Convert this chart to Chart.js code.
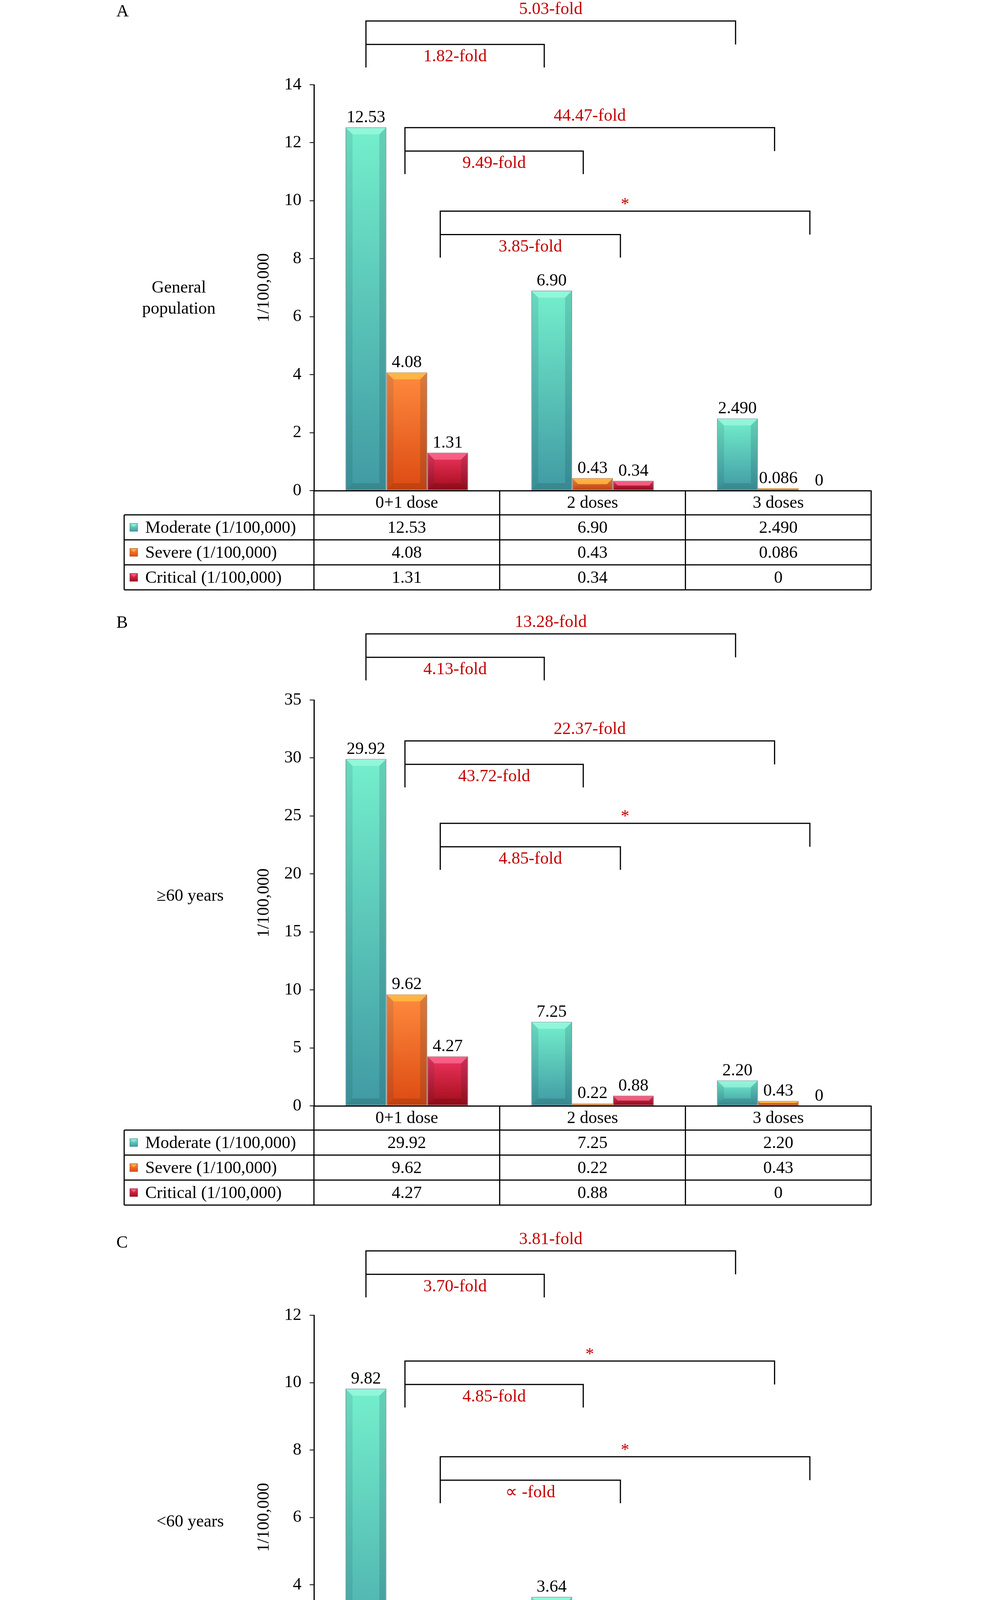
<!DOCTYPE html>
<html>
<head>
<meta charset="utf-8">
<script src="https://cdn.jsdelivr.net/npm/chart.js@4.4.1/dist/chart.umd.min.js"></script>
<style>
  body { margin: 0; background: #fff; }
  #page { position: relative; width: 2520px; height: 4660px; }
  canvas { position: absolute; left: 0; }
</style>
</head>
<body>
<div id="page">
  <canvas id="panel-a" width="2520" height="1540" style="top:0"></canvas>
  <canvas id="panel-b" width="2520" height="1570" style="top:1540px"></canvas>
  <canvas id="panel-c" width="2520" height="1550" style="top:3110px"></canvas>
</div>
<script>
const doseLabels = ['0+1 dose', '2 doses', '3 doses'];
const seriesNames = ['Moderate (1/100,000)', 'Severe (1/100,000)', 'Critical (1/100,000)'];

// A - general population
const moderateA = [12.53, 6.90, 2.490];
const severeA = [4.08, 0.43, 0.086];
const criticalA = [1.31, 0.34, 0];
const moderateTextA = ['12.53', '6.90', '2.490'];
const severeTextA = ['4.08', '0.43', '0.086'];
const criticalTextA = ['1.31', '0.34', '0'];
const foldA = [['5.03-fold', '1.82-fold'], ['44.47-fold', '9.49-fold'], ['*', '3.85-fold']];

// B - 60 years and older
const moderateB = [29.92, 7.25, 2.20];
const severeB = [9.62, 0.22, 0.43];
const criticalB = [4.27, 0.88, 0];
const moderateTextB = ['29.92', '7.25', '2.20'];
const severeTextB = ['9.62', '0.22', '0.43'];
const criticalTextB = ['4.27', '0.88', '0'];
const foldB = [['13.28-fold', '4.13-fold'], ['22.37-fold', '43.72-fold'], ['*', '4.85-fold']];

// C - under 60 years
const moderateC = [9.82, 3.64, 2.58];
const severeC = [1.60, 0.33, 0];
const criticalC = [0.20, 0, 0];
const moderateTextC = ['9.82', '3.64', '2.58'];
const severeTextC = ['1.60', '0.33', '0'];
const criticalTextC = ['0.20', '0', '0'];
const criticalBarTextC = ['0.2', '0', '0'];
const foldC = [['3.81-fold', '3.70-fold'], ['*', '4.85-fold'], ['*', '\u221d -fold']];

// layout (pixels)
const AXIS_LEFT = 804, AXIS_RIGHT = 2231, LEGEND_LEFT = 318;
const HEADER_H = 62, ROW_H = 64;
const RED = '#c40000';
const FONT = '"Liberation Serif", "Times New Roman", serif';

// bracket ends, in category units (0 = first group centre)
const bracketSpans = [
    { from: -0.22, outer: 1.77, inner: 0.74 },
    { from: -0.01, outer: 1.98, inner: 0.95 },
    { from: 0.18, outer: 2.17, inner: 1.15 }
];

const palette = [
    { top: '#74efcc', bottom: '#409aa3', shine: 'rgba(170,255,230,0.55)', edge: 'rgba(90,130,150,0.8)' },
    { top: '#ff8b3e', bottom: '#dc4a12', shine: 'rgba(255,205,70,0.65)', edge: 'rgba(150,90,60,0.7)' },
    { top: '#ef3560', bottom: '#a20c1a', shine: 'rgba(255,120,155,0.65)', edge: 'rgba(120,60,70,0.7)' }
];

const panels = [
    {
        id: 'panel-a', letter: 'A', letterY: 30, side: ['General', 'population'], sideX: 458, sideDy: 28,
        series: [moderateA, severeA, criticalA],
        barText: [moderateTextA, severeTextA, criticalTextA],
        table: [moderateTextA, severeTextA, criticalTextA],
        folds: foldA, bracketTops: [16.2, 12.52, 9.64],
        yMax: 14, yStep: 2, top: 217, bottom: 1256
    },
    {
        id: 'panel-b', letter: 'B', letterY: 55, side: ['\u226560 years'], sideX: 487, sideDy: -17,
        series: [moderateB, severeB, criticalB],
        barText: [moderateTextB, severeTextB, criticalTextB],
        table: [moderateTextB, severeTextB, criticalTextB],
        folds: foldB, bracketTops: [40.7, 31.47, 24.36],
        yMax: 35, yStep: 5, top: 252, bottom: 1291
    },
    {
        id: 'panel-c', letter: 'C', letterY: 72, side: ['<60 years'], sideX: 487, sideDy: 12,
        series: [moderateC, severeC, criticalC],
        barText: [moderateTextC, severeTextC, criticalBarTextC],
        table: [moderateTextC, severeTextC, criticalTextC],
        folds: foldC, bracketTops: [13.91, 10.64, 7.80],
        yMax: 12, yStep: 2, top: 257, bottom: 1292
    }
];

Chart.defaults.font.family = FONT;
Chart.defaults.color = '#000';

function barFill(c, col) {
    const chart = c.chart;
    if (!chart.chartArea || c.raw === undefined) return col.top;
    const y = chart.scales.y;
    const yTop = y.getPixelForValue(c.raw), yBase = y.getPixelForValue(0);
    if (!(yBase - yTop > 0.5)) return col.top;
    const g = chart.ctx.createLinearGradient(0, yTop, 0, yBase);
    g.addColorStop(0, col.top);
    g.addColorStop(1, col.bottom);
    return g;
}

function poly(ctx, pts, fill) {
    ctx.beginPath();
    ctx.moveTo(pts[0][0], pts[0][1]);
    for (let i = 1; i < pts.length; i++) ctx.lineTo(pts[i][0], pts[i][1]);
    ctx.closePath();
    ctx.fillStyle = fill;
    ctx.fill();
}

function bevel(ctx, x0, y0, x1, y1, shine) {
    const b = Math.min(17, (x1 - x0) / 2, (y1 - y0) / 2);
    poly(ctx, [[x0, y0], [x1, y0], [x1 - b, y0 + b], [x0 + b, y0 + b]], shine);
    poly(ctx, [[x0, y0], [x0 + b, y0 + b], [x0 + b, y1 - b], [x0, y1]], 'rgba(0,40,60,0.10)');
    poly(ctx, [[x1, y0], [x1, y1], [x1 - b, y1 - b], [x1 - b, y0 + b]], 'rgba(0,30,50,0.14)');
    poly(ctx, [[x0, y1], [x1, y1], [x1 - b, y1 - b], [x0 + b, y1 - b]], 'rgba(0,0,0,0.12)');
}

function legendMarker(ctx, x, cy, col) {
    const s = 21, y = cy - s / 2;
    const g = ctx.createLinearGradient(0, y, 0, y + s);
    g.addColorStop(0, col.top);
    g.addColorStop(1, col.bottom);
    ctx.fillStyle = g;
    ctx.fillRect(x, y, s, s);
    poly(ctx, [[x + 3, y + 2], [x + s - 3, y + 2], [x + s / 2, y + 10]], col.shine);
    ctx.strokeStyle = col.edge;
    ctx.lineWidth = 1.5;
    ctx.strokeRect(x + 0.75, y + 0.75, s - 1.5, s - 1.5);
}

function decor(p) {
    return {
        id: 'decor',
        afterDatasetsDraw(chart) {
            const ctx = chart.ctx;
            ctx.save();
            chart.data.datasets.forEach((ds, i) => {
                chart.getDatasetMeta(i).data.forEach(bar => {
                    const {x, y, base, width} = bar.getProps(['x', 'y', 'base', 'width'], true);
                    const y0 = Math.min(y, base), y1 = Math.max(y, base);
                    if (y1 - y0 < 2) return;
                    bevel(ctx, x - width / 2 + 1, y0 + 1, x + width / 2 - 1, y1 - 1, palette[i].shine);
                });
            });
            ctx.restore();
        },
        afterDraw(chart) {
            const {ctx, chartArea: a, scales: {x, y}} = chart;
            ctx.save();
            ctx.font = '44px ' + FONT;
            ctx.textAlign = 'center';

            // values above bars
            ctx.fillStyle = '#000';
            ctx.textBaseline = 'alphabetic';
            chart.data.datasets.forEach((ds, i) => {
                chart.getDatasetMeta(i).data.forEach((bar, j) => {
                    ctx.fillText(p.barText[i][j], bar.x, bar.y - 13);
                });
            });

            // fold-change brackets
            ctx.textBaseline = 'middle';
            ctx.lineWidth = 3;
            ctx.strokeStyle = '#000';
            p.bracketTops.forEach((v, k) => {
                const s = bracketSpans[k];
                const yT = y.getPixelForValue(v), yM = yT + 60, yB = yT + 119;
                const xL = x.getPixelForValue(s.from);
                const xO = x.getPixelForValue(s.outer);
                const xI = x.getPixelForValue(s.inner);
                ctx.beginPath();
                ctx.moveTo(xL, yB); ctx.lineTo(xL, yT); ctx.lineTo(xO, yT); ctx.lineTo(xO, yM);
                ctx.moveTo(xL, yM); ctx.lineTo(xI, yM); ctx.lineTo(xI, yB);
                ctx.stroke();
                ctx.fillStyle = RED;
                const [outerText, innerText] = p.folds[k];
                ctx.fillText(outerText, (xL + xO) / 2, yT - (outerText === '*' ? 16 : 29));
                ctx.fillText(innerText, (xL + xI) / 2, yM + (innerText === '*' ? 44 : 32));
            });

            // data table under the x axis
            const cols = [a.left];
            for (let i = 1; i < doseLabels.length; i++) {
                cols.push((x.getPixelForValue(i - 1) + x.getPixelForValue(i)) / 2);
            }
            cols.push(a.right);
            const rowTop = a.bottom + HEADER_H;
            const tableBottom = rowTop + seriesNames.length * ROW_H;
            ctx.strokeStyle = '#000';
            ctx.lineWidth = 3;
            ctx.beginPath();
            cols.forEach(cx => { ctx.moveTo(cx, a.bottom); ctx.lineTo(cx, tableBottom); });
            ctx.moveTo(LEGEND_LEFT, rowTop); ctx.lineTo(LEGEND_LEFT, tableBottom);
            for (let r = 0; r <= seriesNames.length; r++) {
                ctx.moveTo(LEGEND_LEFT, rowTop + r * ROW_H);
                ctx.lineTo(a.right, rowTop + r * ROW_H);
            }
            ctx.stroke();

            ctx.fillStyle = '#000';
            seriesNames.forEach((name, r) => {
                const cy = rowTop + r * ROW_H + ROW_H / 2;
                legendMarker(ctx, LEGEND_LEFT + 14, cy, palette[r]);
                ctx.fillStyle = '#000';
                ctx.textAlign = 'left';
                ctx.fillText(name, LEGEND_LEFT + 54, cy + 2);
                ctx.textAlign = 'center';
                p.table[r].forEach((t, j) => {
                    ctx.fillText(t, (cols[j] + cols[j + 1]) / 2, cy + 2);
                });
            });

            // group label and panel letter
            const mid = (a.top + a.bottom) / 2 + p.sideDy;
            p.side.forEach((line, i) => {
                ctx.fillText(line, p.sideX, mid + (i - (p.side.length - 1) / 2) * 54);
            });
            ctx.textAlign = 'left';
            ctx.fillText(p.letter, 298, p.letterY);
            ctx.restore();
        }
    };
}

function buildPanel(p) {
    const canvas = document.getElementById(p.id);
    const H = canvas.height;
    return new Chart(canvas, {
        type: 'bar',
        data: {
            labels: doseLabels,
            datasets: p.series.map((vals, i) => ({
                label: seriesNames[i],
                data: vals,
                backgroundColor: c => barFill(c, palette[i]),
                borderColor: palette[i].edge,
                borderWidth: 2,
                borderSkipped: false,
                categoryPercentage: 0.66,
                barPercentage: 1
            }))
        },
        options: {
            responsive: false,
            animation: false,
            devicePixelRatio: 1,
            layout: { padding: { left: 0, right: 2520 - AXIS_RIGHT, top: p.top, bottom: H - p.bottom - HEADER_H } },
            plugins: { legend: { display: false }, tooltip: { enabled: false } },
            scales: {
                x: {
                    grid: { display: false, drawTicks: false },
                    border: { display: true, color: '#000', width: 3 },
                    ticks: { color: '#000', font: { size: 44 }, padding: 6, maxRotation: 0, autoSkip: false },
                    afterFit: s => { s.height = HEADER_H; }
                },
                y: {
                    min: 0,
                    max: p.yMax,
                    ticks: { stepSize: p.yStep, color: '#000', font: { size: 44 }, padding: 21 },
                    grid: { drawOnChartArea: false, color: '#000', lineWidth: 2, tickLength: 11 },
                    border: { display: true, color: '#000', width: 3 },
                    title: { display: true, text: '1/100,000', color: '#000', font: { size: 44 }, padding: { top: 650, bottom: 0 } },
                    afterFit: s => { s.width = AXIS_LEFT; }
                }
            }
        },
        plugins: [decor(p)]
    });
}

panels.forEach(buildPanel);
</script>
</body>
</html>
